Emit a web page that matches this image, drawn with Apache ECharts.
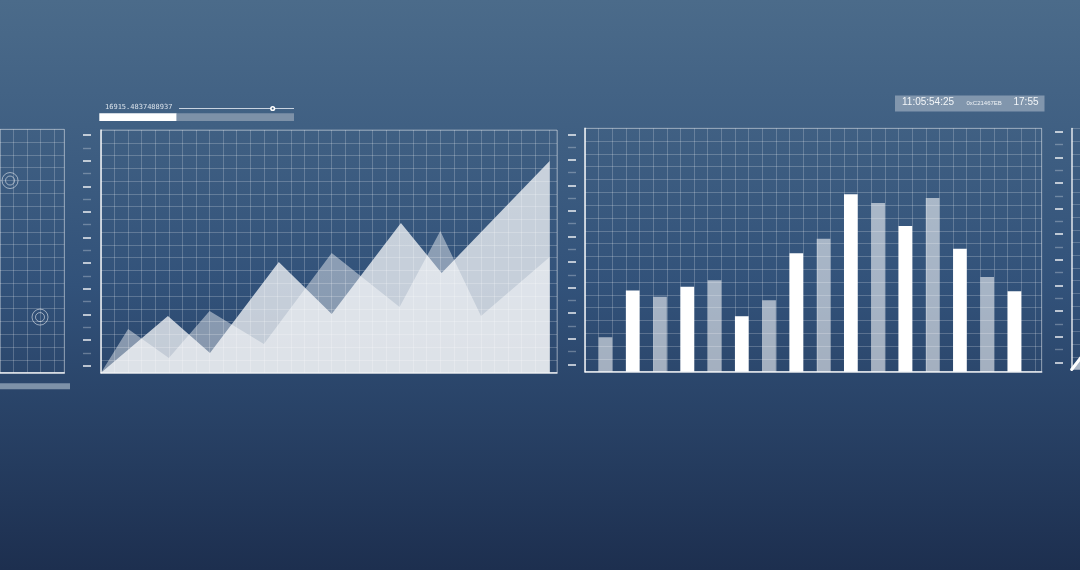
<!DOCTYPE html>
<html>
<head>
<meta charset="utf-8">
<script src="https://cdn.jsdelivr.net/npm/echarts@6/dist/echarts.min.js"></script>
<style>
html,body{margin:0;padding:0;width:1080px;height:570px;overflow:hidden;}
#c{width:1080px;height:570px;}
</style>
</head>
<body>
<div id="c"></div>
<script>
// ---- data ----
const areaAX = [0, 2, 5, 8, 12, 17, 22, 25, 28, 33.06];
const areaAY = [0, 3.42, 1.15, 4.83, 2.25, 9.37, 5.14, 11.1, 4.44, 9.06];
const areaBX = [0, 4.93, 8.03, 13.1, 17.0, 22.1, 25.1, 33.06];
const areaBY = [0, 4.44, 1.54, 8.67, 4.6, 11.72, 7.8, 16.58];
const barValues = [2.69, 6.33, 5.86, 6.64, 7.14, 4.33, 5.58, 9.25, 10.37, 13.86, 13.16, 11.38, 13.55, 9.59, 7.4, 6.28];
const circleX = [0.5, 2.72];
const circleY = [15.0, 4.34];
const edgeLineX = [0, 2];
const edgeLineY = [0, 2.8];
const readoutValue = '16915.4837488937';
const clockText = '11:05:54:25';
const hexText = '0xC21467EB';
const shortClock = '17:55';

// ---- styles ----
const GRID_LINE = 'rgba(255,255,255,0.21)';
const BORDER = 'rgba(255,255,255,0.34)';
const AXIS = 'rgba(255,255,255,0.85)';

function pairs(xs, ys) { return xs.map((x, i) => [x, ys[i]]); }

function panelAxes(gridIndex, xmin, xmax, ymax, showLeft, showBottom, showXSplit) {
  return {
    x: {
      type: 'value', gridIndex, min: xmin, max: xmax, interval: 1,
      axisLabel: { show: false }, axisTick: { show: false },
      axisLine: { show: showBottom, onZero: false, lineStyle: { color: AXIS, width: 1.5 } },
      splitLine: { show: showXSplit, lineStyle: { color: GRID_LINE, width: 1 } }
    },
    y: {
      type: 'value', gridIndex, min: 0, max: ymax, interval: 1,
      axisLabel: { show: false }, axisTick: { show: false },
      axisLine: { show: showLeft, onZero: false, lineStyle: { color: AXIS, width: 1.5 } },
      splitLine: { show: true, lineStyle: { color: GRID_LINE, width: 1 } }
    }
  };
}

function tickAxes(gridIndex) {
  return {
    x: { type: 'value', gridIndex, show: false, min: 0, max: 1 },
    y: {
      type: 'value', gridIndex, min: 0, max: 18, interval: 2,
      axisLine: { show: false }, axisLabel: { show: false },
      splitLine: { show: false },
      axisTick: { show: true, inside: false, length: 8, lineStyle: { color: 'rgba(255,255,255,0.85)', width: 1.6 } },
      minorTick: { show: true, splitNumber: 2, length: 8, lineStyle: { color: 'rgba(255,255,255,0.28)', width: 1.4 } },
      minorSplitLine: { show: false }
    }
  };
}

const grids = [
  // 0 area chart panel
  { left: 101, top: 130, width: 456, height: 242.7, show: true, borderColor: BORDER, borderWidth: 1 },
  // 1 bar chart panel
  { left: 585, top: 128.3, width: 456.7, height: 243.4, show: true, borderColor: BORDER, borderWidth: 1 },
  // 2 left partial panel
  { left: 0, top: 129.3, width: 64.3, height: 243.4, show: true, borderColor: BORDER, borderWidth: 1 },
  // 3 right partial panel
  { left: 1071.7, top: 128.5, width: 8.3, height: 241 },
  // 4..6 tick rulers
  { left: 91, top: 135, width: 1, height: 230.7 },
  { left: 576, top: 134.3, width: 1, height: 230 },
  { left: 1063, top: 131.7, width: 1, height: 230.6 }
];

const ax = [
  panelAxes(0, 0, 33.6, 19, true, true, true),
  panelAxes(1, 0, 33.5, 19, true, true, true),
  panelAxes(2, -0.244, 4.519, 19, false, true, true),
  panelAxes(3, 0, 0.61, 19, true, false, false),
  tickAxes(4), tickAxes(5), tickAxes(6)
];

const barData = barValues.map((v, i) => ({
  value: [i * 2 + 1.5, v],
  itemStyle: { color: i % 2 === 0 ? 'rgba(255,255,255,0.57)' : '#ffffff' }
}));

const option = {
  animation: false,
  backgroundColor: {
    type: 'linear', x: 0, y: 0, x2: 0, y2: 1,
    colorStops: [
      { offset: 0, color: '#4b6b8a' },
      { offset: 0.5, color: '#32527a' },
      { offset: 1, color: '#1d2f4f' }
    ]
  },
  grid: grids,
  xAxis: ax.map(a => a.x),
  yAxis: ax.map(a => a.y),
  series: [
    {
      type: 'line', xAxisIndex: 0, yAxisIndex: 0, data: pairs(areaAX, areaAY),
      symbol: 'none', lineStyle: { width: 0, opacity: 0 },
      areaStyle: { color: '#ffffff', opacity: 0.43 }
    },
    {
      type: 'line', xAxisIndex: 0, yAxisIndex: 0, data: pairs(areaBX, areaBY),
      symbol: 'none', lineStyle: { width: 0, opacity: 0 },
      areaStyle: { color: '#ffffff', opacity: 0.72 }
    },
    {
      type: 'bar', xAxisIndex: 1, yAxisIndex: 1, data: barData, barWidth: 13.7
    },
    {
      type: 'scatter', xAxisIndex: 2, yAxisIndex: 2, data: pairs(circleX, circleY),
      symbol: 'circle', symbolSize: 16,
      itemStyle: { color: 'rgba(0,0,0,0)', borderColor: 'rgba(255,255,255,0.65)', borderWidth: 1 }
    },
    {
      type: 'scatter', xAxisIndex: 2, yAxisIndex: 2, data: pairs(circleX, circleY),
      symbol: 'circle', symbolSize: 9,
      itemStyle: { color: 'rgba(0,0,0,0)', borderColor: 'rgba(255,255,255,0.65)', borderWidth: 1 }
    },
    {
      type: 'line', xAxisIndex: 3, yAxisIndex: 3, data: pairs(edgeLineX, edgeLineY),
      symbol: 'none', lineStyle: { color: '#ffffff', width: 3, cap: 'round' },
      areaStyle: { color: '#ffffff', opacity: 0.6 }
    }
  ],
  graphic: [
    // readout text + slider
    { type: 'text', left: 105, top: 104, style: { text: readoutValue, fill: '#dbe3ec', font: '7px "DejaVu Sans Mono", monospace' } },
    { type: 'line', shape: { x1: 179, y1: 108.5, x2: 294, y2: 108.5 }, style: { stroke: 'rgba(225,232,240,0.85)', lineWidth: 1 } },
    { type: 'circle', shape: { cx: 272.7, cy: 108.5, r: 2.6 }, style: { fill: '#ffffff' } },
    { type: 'circle', shape: { cx: 272.7, cy: 108.5, r: 1 }, style: { fill: '#3e5c7c' } },
    { type: 'rect', shape: { x: 99.3, y: 113.3, width: 77.4, height: 7.7 }, style: { fill: '#ffffff' } },
    { type: 'rect', shape: { x: 176.7, y: 113.3, width: 117.3, height: 7.7 }, style: { fill: '#7d91a8' } },
    // clock box
    { type: 'rect', shape: { x: 895, y: 95.5, width: 149.5, height: 16 }, style: { fill: '#8196ad' } },
    { type: 'text', left: 902, top: 97.5, style: { text: clockText, fill: '#f2f5f8', font: '10px "Liberation Sans", Arial, sans-serif' } },
    { type: 'text', left: 966.5, top: 100.5, style: { text: hexText, fill: '#eef2f6', font: '6px "Liberation Sans", Arial, sans-serif' } },
    { type: 'text', left: 1013.5, top: 97.5, style: { text: shortClock, fill: '#f2f5f8', font: '10px "Liberation Sans", Arial, sans-serif' } },
    // grey bar under left partial panel
    { type: 'rect', shape: { x: 0, y: 383.3, width: 70, height: 6 }, style: { fill: '#7d91a8' } }
  ]
};

const chart = echarts.init(document.getElementById('c'), null, { renderer: 'canvas' });
chart.setOption(option);
</script>
</body>
</html>
